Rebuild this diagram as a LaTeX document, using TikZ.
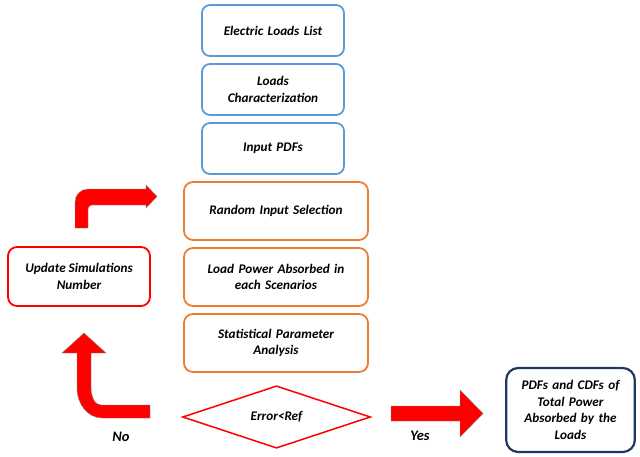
\documentclass[tikz,border=0pt]{standalone}
\usepackage{fontspec}
\setmainfont{Carlito}
\usetikzlibrary{shapes.geometric}
\definecolor{inblue}{HTML}{5B9BD5}
\definecolor{simorange}{HTML}{ED7D31}
\definecolor{loopred}{HTML}{FF0000}
\definecolor{outnavy}{HTML}{203864}

\begin{document}
\begin{tikzpicture}[x=1pt,y=-1pt,
  txt/.style={font=\fontsize{13.2}{16.5}\selectfont\bfseries\itshape,align=center,text=black},
  inbox/.style={txt,draw=inblue,line width=1.8pt,rounded corners=8pt,minimum width=142pt,minimum height=51pt,text width=134pt},
  simbox/.style={txt,draw=simorange,line width=1.8pt,rounded corners=9pt,minimum width=184pt,minimum height=58pt,text width=176pt},
  blockarrow/.style={fill=loopred,draw=black!45,line width=0.4pt}]
  \useasboundingbox (0,0) rectangle (640,456);

  % input data
  \node[inbox] (loads) at (273,30.5) {Electric Loads List};
  \node[inbox] (charact) at (273,89.5) {Loads\\Characterization};
  \node[inbox] (pdfs) at (273,148.5) {Input PDFs};

  % Monte Carlo loop
  \node[simbox] (random) at (276,211) {Random Input Selection};
  \node[simbox] (power) at (276,277) {Load Power Absorbed in\\each Scenarios};
  \node[simbox] (stats) at (276,343) {Statistical Parameter\\Analysis};
  \node[txt,draw=loopred,line width=1.8pt,rounded corners=9pt,minimum width=142pt,minimum height=59pt] (update) at (79,276.5) {Update Simulations\\Number};
  \node[txt,diamond,draw=loopred,line width=1.5pt,inner sep=0pt,minimum width=188pt,minimum height=57pt] (check) at (276.5,417) {Error<Ref};

  % result
  \node[txt,draw=outnavy,line width=2.2pt,rounded corners=12pt,minimum width=127pt,minimum height=84pt,text width=122pt] (result) at (570.5,410) {PDFs and CDFs of\\Total Power\\Absorbed by the\\Loads};

  % block arrows
  \draw[blockarrow] (150,405) -- (101,405) .. controls (95,405) and (91,397) .. (91,387) -- (91,353) -- (106,353) -- (84,333) -- (62,353) -- (77,353) -- (77,388) .. controls (77,404.5) and (88,418) .. (102,418) -- (150,418) -- cycle;
  \draw[blockarrow] (75,228) -- (75,202) .. controls (75,194.8) and (80.8,189) .. (88,189) -- (146,189) -- (146,185) -- (157,196.5) -- (146,208) -- (146,205) -- (92,205) .. controls (89.8,205) and (88,206.8) .. (88,209) -- (88,228) -- cycle;
  \draw[blockarrow] (391,406) -- (460,406) -- (460,390) -- (483,413.5) -- (460,437) -- (460,421) -- (391,421) -- cycle;

  \node[txt,font=\fontsize{14.5}{16}\selectfont\bfseries\itshape] (no) at (121,437) {No};
  \node[txt,font=\fontsize{14.5}{16}\selectfont\bfseries\itshape] (yes) at (420,436) {Yes};
\end{tikzpicture}
\end{document}
